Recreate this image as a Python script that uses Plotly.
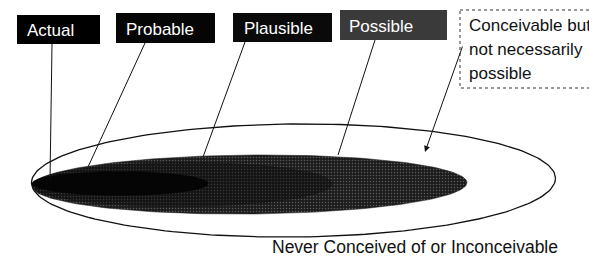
import numpy as np
import plotly.graph_objects as go

# ---- content ----
labels = ["Actual", "Probable", "Plausible", "Possible"]
label_bg = ["#000000", "#050505", "#0a0a0a", "#3a3a3a"]
side_note = ["Conceivable but", "not necessarily", "possible"]
bottom_text = "Never Conceived of or Inconceivable"

# ---- layout constants (pixel-like coordinates, y downward) ----
W, H = 589, 263
FONT = "Liberation Sans, Arial, sans-serif"

# label boxes: x0, x1, y0, y1 and text x
boxes = [(17, 100, 15, 44, 25), (116, 215, 13, 43, 124),
         (233, 332, 13, 42, 242), (340, 447, 10, 40, 347)]
# leader lines: from (x0,y0) to (x1,y1)
leaders = [(52, 44, 50, 180), (145, 43, 88, 167),
           (245, 42, 203, 157), (375, 40, 338, 155)]

# ellipses: (cx, cy, a, b, tilt_deg, fill, speckle colour)
outer = (293.5, 180.5, 262, 56.5, -0.5)
regions = [
    (249.5, 184.5, 217.5, 29.5, -0.5, "#1c1c1c", "#9a9a9a"),   # Possible
    (182, 184.5, 150, 22, -0.3, "#141414", "#5a5a5a"),          # Plausible
    (120, 183.5, 88, 12, 0, "#050505", None),                   # Probable
]


def ellipse(cx, cy, a, b, tilt, n=200):
    t = np.linspace(0, 2 * np.pi, n)
    x = a * np.cos(t)
    y = b * np.sin(t)
    th = np.deg2rad(tilt)
    xr = cx + x * np.cos(th) - y * np.sin(th)
    yr = cy + x * np.sin(th) + y * np.cos(th)
    return xr, yr


fig = go.Figure()

# outer ellipse (line only)
ox, oy = ellipse(*outer)
fig.add_trace(go.Scatter(x=ox, y=oy, mode="lines",
                         line=dict(color="#111111", width=1.3),
                         hoverinfo="skip", showlegend=False))

for (cx, cy, a, b, tilt, fill, speck) in regions:
    ex, ey = ellipse(cx, cy, a, b, tilt)
    kw = {}
    if speck:
        kw["fillpattern"] = dict(shape=".", bgcolor=fill, fgcolor=speck,
                                 size=3, solidity=0.2)
    fig.add_trace(go.Scatter(x=ex, y=ey, mode="lines", fill="toself",
                             fillcolor=fill, line=dict(color=fill, width=0.5),
                             hoverinfo="skip", showlegend=False, **kw))

shapes = []
annotations = []

# leader lines
for (x0, y0, x1, y1) in leaders:
    shapes.append(dict(type="line", x0=x0, y0=y0, x1=x1, y1=y1,
                       xref="x", yref="y", line=dict(color="#111111", width=1)))

# label boxes
for (lab, bg, (x0, x1, y0, y1, tx)) in zip(labels, label_bg, boxes):
    shapes.append(dict(type="rect", x0=x0, x1=x1, y0=y0, y1=y1, xref="x", yref="y",
                       fillcolor=bg, line=dict(width=0), layer="above"))
    annotations.append(dict(x=tx, y=(y0 + y1) / 2 + 1, xref="x", yref="y",
                            text=lab, showarrow=False, xanchor="left", yanchor="middle",
                            font=dict(family=FONT, size=17, color="white")))

# side note box (dotted border, clipped at right)
shapes.append(dict(type="rect", x0=460, x1=600, y0=10, y1=88, xref="x", yref="y",
                   fillcolor="white", line=dict(color="#333333", width=1, dash="dot"),
                   layer="above"))
for k, line in enumerate(side_note):
    annotations.append(dict(x=467, y=25 + 24 * k, xref="x", yref="y", text=line,
                            showarrow=False, xanchor="left", yanchor="middle",
                            font=dict(family=FONT, size=17, color="#111111")))

# arrow from side note into the outer ring
annotations.append(dict(x=425, y=152, ax=463, ay=45, xref="x", yref="y",
                        axref="x", ayref="y", text="", showarrow=True,
                        arrowhead=2, arrowsize=1.2, arrowwidth=1, arrowcolor="#111111"))

# bottom caption
annotations.append(dict(x=415, y=247, xref="x", yref="y", text=bottom_text,
                        showarrow=False, xanchor="center", yanchor="middle",
                        font=dict(family=FONT, size=17.5, color="#111111")))

fig.update_layout(
    width=W, height=H, margin=dict(l=0, r=0, t=0, b=0),
    paper_bgcolor="white", plot_bgcolor="white",
    xaxis=dict(range=[0, W], visible=False, fixedrange=True),
    yaxis=dict(range=[H, 0], visible=False, fixedrange=True),
    shapes=shapes, annotations=annotations, showlegend=False,
)

fig.write_html("out.html", config={"displayModeBar": False},
               post_script="document.body.style.margin='0px';document.body.style.overflow='hidden';")
